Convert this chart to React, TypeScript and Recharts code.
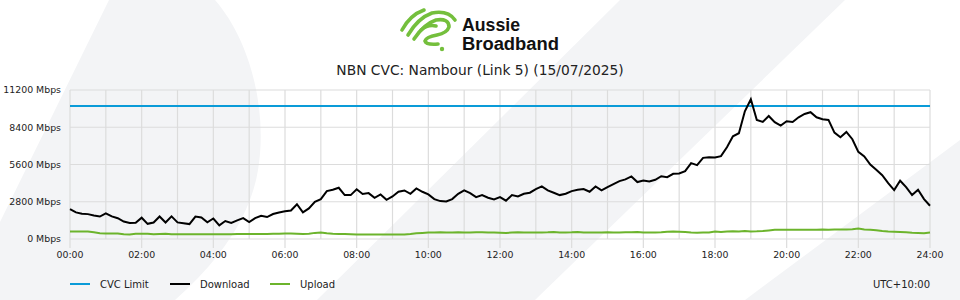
import { LineChart, Line, XAxis, YAxis, CartesianGrid } from 'recharts';

// 10-minute samples, 00:00 -> 24:00 (145 points), Mbps
const download = [
  2240, 2000, 1900, 1870, 1760, 1690, 1930, 1700, 1560, 1310, 1200, 1220,
  1600, 1140, 1240, 1690, 1240, 1700, 1250, 1180, 1120, 1690, 1620, 1260,
  1540, 1030, 1350, 1200, 1400, 1570, 1280, 1570, 1740, 1650, 1880, 1990,
  2080, 2140, 2610, 2000, 2300, 2800, 3000, 3600, 3700, 3850, 3300, 3300,
  3740, 3380, 3450, 3100, 3350, 2950, 3200, 3550, 3650, 3400, 3800, 3550,
  3350, 3000, 2850, 2820, 3000, 3400, 3650, 3450, 3150, 3300, 3100, 2980,
  3150, 2880, 3300, 3200, 3400, 3480, 3750, 3950, 3650, 3480, 3300, 3400,
  3600, 3700, 3750, 3550, 3950, 3650, 3900, 4130, 4350, 4480, 4700, 4280,
  4400, 4320, 4450, 4720, 4650, 4900, 4930, 5100, 5700, 5550, 6100, 6150,
  6130, 6230, 6900, 7720, 7950, 9600, 10500, 8950, 8800, 9250, 8780, 8520,
  8850, 8800, 9150, 9400, 9530, 9150, 9000, 8950, 8000, 7650, 8050, 7500,
  6550, 6200, 5600, 5200, 4800, 4200, 3680, 4380, 3900, 3300, 3700, 3000,
  2500,
];

const upload = [
  570, 570, 565, 560, 500, 430, 420, 420, 415, 350, 330, 390,
  400, 395, 360, 380, 390, 350, 360, 355, 350, 360, 365, 360,
  355, 350, 355, 360, 370, 375, 380, 380, 385, 380, 390, 395,
  410, 420, 400, 380, 400, 460, 480, 430, 400, 380, 370, 360,
  330, 330, 340, 330, 335, 330, 335, 340, 340, 380, 430, 460,
  480, 490, 500, 495, 490, 500, 495, 490, 500, 510, 495, 490,
  470, 450, 490, 500, 480, 490, 495, 490, 500, 520, 495, 490,
  500, 530, 490, 480, 490, 495, 500, 480, 490, 500, 510, 530,
  490, 480, 490, 500, 540, 560, 540, 520, 480, 470, 480, 490,
  560, 520, 560, 580, 570, 600, 570, 580, 600, 640, 690, 700,
  690, 700, 700, 690, 690, 700, 720, 700, 710, 720, 720, 740,
  790, 720, 690, 660, 600, 560, 540, 520, 500, 470, 450, 430,
  480,
];

const CVC_LIMIT = 10000;
const yTicks = [0, 2800, 5600, 8400, 11200];
const xTicks = [0, 2, 4, 6, 8, 10, 12, 14, 16, 18, 20, 22, 24];
const gridHours = Array.from({ length: 25 }, (_, h) => h);

const chartData = download.map((d, i) => ({
  hour: i / 6,
  download: d,
  upload: upload[i],
  cvc: CVC_LIMIT,
}));

const FONT = '"DejaVu Sans", Verdana, sans-serif';
const GRID = '#dcdcdc';
const BG = '#f3f4f6';

const fmtHour = (h: number) => `${String(h).padStart(2, '0')}:00`;

// plain text tick so recharts doesn't wrap "11200 Mbps"
const YTick = ({ x, y, payload }: any) => (
  <text x={x} y={y} dy="0.35em" textAnchor="end" fontSize={9.4} fill="#222" fontFamily={FONT}>
    {`${payload.value} Mbps`}
  </text>
);

function Backdrop() {
  return (
    <svg width={960} height={300} style={{ position: 'absolute', left: 0, top: 0 }}>
      {/* watermark shapes */}
      <path d="M0 222 L109 0 L215 0 C250 40 268 110 258 170 C250 220 215 265 175 300 L0 300 Z" fill={BG} />
      <path d="M620 0 L845 0 L535 300 L317 300 Z" fill={BG} />
      <path d="M960 140 L745 300 L960 300 Z" fill={BG} />

      {/* logo */}
      <g fill="none" stroke="#74bf3c" strokeWidth={3.6} strokeLinecap="round" strokeLinejoin="round">
        <path d="M402 30 Q410 15 424 10" />
        <path d="M408 35 Q418 18 432 13 Q448 10 455 20" />
        <path d="M414 39 Q424 24 436 20 Q449 18 449 27 Q447 33 437 35 Q426 37 425 41 Q426 45 438 44" />
        <path d="M421 30 Q428 24 436 26" />
      </g>
      <circle cx={442} cy={49} r={2.2} fill="#74bf3c" />
      <g fontFamily='"Liberation Sans", Arial, sans-serif' fontWeight="bold" fontSize={17.5} fill="#111">
        <text x={462} y={30.5} textLength={58} lengthAdjust="spacingAndGlyphs">Aussie</text>
        <text x={462} y={50} textLength={97} lengthAdjust="spacingAndGlyphs">Broadband</text>
      </g>

      <text x={480} y={75} textAnchor="middle" fontFamily={FONT} fontSize={13.8} fill="#222">
        NBN CVC: Nambour (Link 5) (15/07/2025)
      </text>

      {/* legend */}
      <g fontFamily={FONT} fontSize={10} fill="#222">
        <line x1={70} x2={90} y1={284} y2={284} stroke="#0a9bd8" strokeWidth={2} />
        <text x={100} y={287.5}>CVC Limit</text>
        <line x1={170} x2={190} y1={284} y2={284} stroke="#000" strokeWidth={2} />
        <text x={200} y={287.5}>Download</text>
        <line x1={270} x2={290} y1={284} y2={284} stroke="#6cb42c" strokeWidth={2} />
        <text x={300} y={287.5}>Upload</text>
        <text x={930} y={287.5} textAnchor="end">UTC+10:00</text>
      </g>
    </svg>
  );
}

export default function App() {
  return (
    <div style={{ position: 'absolute', left: 0, top: 0, width: 960, height: 300, background: '#fff', overflow: 'hidden' }}>
      <Backdrop />
      <div style={{ position: 'absolute', left: 0, top: 0 }}>
        <LineChart width={960} height={300} data={chartData} margin={{ top: 90, right: 30, bottom: 31, left: 0 }}>
          <CartesianGrid
            stroke={GRID}
            strokeWidth={1.2}
            verticalCoordinatesGenerator={({ offset }: any) =>
              gridHours.map((h) => offset.left + (offset.width * h) / 24)
            }
          />
          <XAxis
            dataKey="hour"
            type="number"
            domain={[0, 24]}
            ticks={xTicks}
            tickFormatter={fmtHour}
            axisLine={false}
            tickLine={{ stroke: GRID, strokeWidth: 1.2 }}
            tickSize={9}
            tickMargin={3}
            height={30}
            tick={{ fontSize: 9.4, fill: '#222', fontFamily: FONT }}
          />
          <YAxis
            domain={[0, 11200]}
            ticks={yTicks}
            axisLine={false}
            tickLine={false}
            tickMargin={3}
            width={70}
            tick={<YTick />}
          />
          <Line dataKey="cvc" stroke="#0a9bd8" strokeWidth={2} dot={false} isAnimationActive={false} />
          <Line dataKey="upload" stroke="#6cb42c" strokeWidth={2} dot={false} isAnimationActive={false} />
          <Line dataKey="download" stroke="#000" strokeWidth={2} dot={false} isAnimationActive={false} />
        </LineChart>
      </div>
    </div>
  );
}
